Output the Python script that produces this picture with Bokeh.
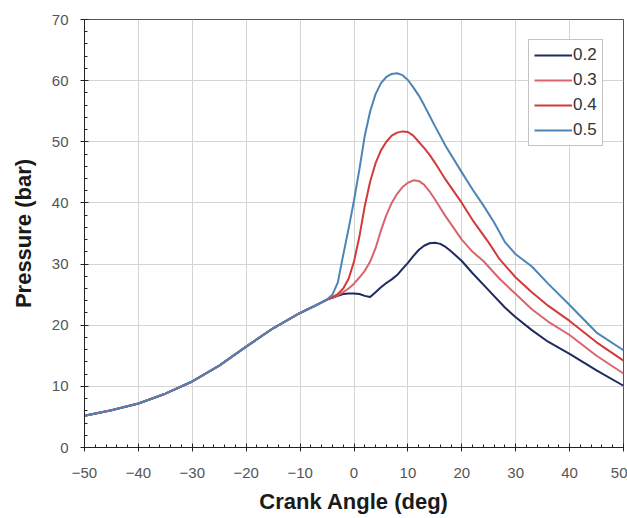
from bokeh.plotting import figure
from bokeh.models import SingleIntervalTicker, Range1d, Legend, LegendItem
from bokeh.embed import file_html
from bokeh.resources import INLINE

# ---- data ----
x_02 = [-50, -45, -40, -35, -30, -25, -20, -15, -10, -7, -5, -4, -3, -2, -1, 0, 1, 2, 3, 4, 5, 6, 7, 8, 9, 10,
        11, 12, 13, 14, 15, 16, 17, 18, 20, 22, 25, 28, 30, 33, 36, 40, 45, 50]
y_02 = [5.2, 6.1, 7.2, 8.8, 10.8, 13.4, 16.5, 19.5, 22.0, 23.3, 24.2, 24.5, 24.8, 25.1, 25.2, 25.2, 25.1, 24.8,
        24.6, 25.4, 26.2, 26.9, 27.5, 28.2, 29.2, 30.2, 31.3, 32.3, 33.0, 33.4, 33.5, 33.3, 32.8, 32.1, 30.5,
        28.5, 25.7, 22.9, 21.3, 19.2, 17.3, 15.3, 12.6, 10.1]

x_03 = [-50, -45, -40, -35, -30, -25, -20, -15, -10, -7, -5, -3, -2, -1, 0, 1, 2, 3, 4, 5, 6, 7, 8, 9, 10,
        11, 12, 13, 14, 15, 17, 20, 22, 24, 27, 30, 33, 36, 40, 45, 50]
y_03 = [5.2, 6.1, 7.2, 8.8, 10.8, 13.4, 16.5, 19.5, 22.0, 23.3, 24.2, 24.9, 25.4, 26.0, 26.8, 27.8, 28.9, 30.4,
        32.6, 35.5, 38.0, 40.0, 41.5, 42.6, 43.3, 43.7, 43.6, 43.0, 41.9, 40.6, 37.8, 34.0, 32.0, 30.5, 27.6,
        25.1, 22.6, 20.6, 18.4, 15.0, 12.1]

x_04 = [-50, -45, -40, -35, -30, -25, -20, -15, -10, -7, -5, -4, -3, -2, -1, 0, 1, 2, 3, 4, 5, 6, 7, 8, 9, 10,
        11, 12, 13, 14, 15, 17, 20, 22, 25, 27, 30, 33, 36, 40, 45, 50]
y_04 = [5.2, 6.1, 7.2, 8.8, 10.8, 13.4, 16.5, 19.5, 22.0, 23.3, 24.2, 24.6, 25.1, 26.0, 27.6, 30.4, 34.5, 39.5,
        43.5, 46.5, 48.6, 50.0, 51.0, 51.5, 51.7, 51.6, 51.0, 50.0, 49.0, 47.9, 46.6, 43.8, 40.0, 37.2, 33.5,
        30.8, 27.8, 25.4, 23.2, 20.7, 17.2, 14.2]

x_05 = [-50, -45, -40, -35, -30, -25, -20, -15, -10, -7, -5, -4, -3, -2, -1, 0, 1, 2, 3, 4, 5, 6, 7, 8, 9, 10,
        11, 12, 13, 14, 15, 17, 20, 22, 24, 26, 28, 30, 33, 36, 40, 45, 50]
y_05 = [5.2, 6.1, 7.2, 8.8, 10.8, 13.4, 16.5, 19.5, 22.0, 23.3, 24.2, 25.0, 27.0, 31.5, 35.8, 40.4, 45.5, 51.0,
        55.0, 57.8, 59.6, 60.6, 61.1, 61.2, 60.9, 60.1, 58.9, 57.6, 56.0, 54.3, 52.6, 49.3, 45.0, 42.2, 39.6,
        36.8, 33.6, 31.6, 29.6, 26.8, 23.3, 18.8, 15.9]

series_labels = ["0.2", "0.3", "0.4", "0.5"]
series_colors = ["#1f2a5e", "#d9646e", "#d33a3a", "#4d84b6"]

p = figure(width=627, height=518, output_backend="svg", toolbar_location=None,
           x_range=Range1d(-50, 50), y_range=Range1d(0, 70),
           min_border_left=84, min_border_right=4, min_border_top=19, min_border_bottom=71)

p.background_fill_color = "white"
p.outline_line_color = "#555555"
p.outline_line_width = 1

for ax, lbl in ((p.xaxis[0], "Crank Angle (deg)"), (p.yaxis[0], "Pressure (bar)")):
    ax.ticker = SingleIntervalTicker(interval=10, num_minor_ticks=5)
    ax.axis_label = lbl
    ax.axis_label_text_font = "Liberation Sans"
    ax.axis_label_text_font_style = "bold"
    ax.axis_label_text_font_size = "22px"
    ax.axis_label_text_color = "#1a1a1a"
    ax.major_label_text_font = "Liberation Sans"
    ax.major_label_text_font_size = "15px"
    ax.major_label_text_color = "#555555"
    ax.axis_line_color = "#222222"
    ax.major_tick_line_color = "#222222"
    ax.minor_tick_line_color = "#222222"
    ax.major_tick_in = 4
    ax.major_tick_out = 4
    ax.minor_tick_in = 3
    ax.minor_tick_out = 0

p.yaxis[0].major_label_standoff = 12
p.yaxis[0].axis_label_standoff = 13
p.xaxis[0].major_label_standoff = 16
p.xaxis[0].axis_label_standoff = 8

p.xgrid.grid_line_color = "#d4d4d4"
p.ygrid.grid_line_color = "#d4d4d4"
p.xgrid.ticker = SingleIntervalTicker(interval=10)
p.ygrid.ticker = SingleIntervalTicker(interval=10)

items = []
for xs, ys, lab, col in zip([x_02, x_03, x_04, x_05], [y_02, y_03, y_04, y_05], series_labels, series_colors):
    r = p.line(xs, ys, line_color=col, line_width=2)
    items.append(LegendItem(label=lab, renderers=[r]))

legend = Legend(items=items, location=(444, 301))
legend.label_text_font = "Liberation Sans"
legend.label_text_font_size = "17px"
legend.label_text_color = "#333333"
legend.glyph_width = 38
legend.glyph_height = 20
legend.label_height = 20
legend.label_standoff = 1
legend.spacing = 5
legend.padding = 5
legend.border_line_color = "#888888"
legend.background_fill_color = "white"
legend.background_fill_alpha = 1.0
p.add_layout(legend)

open("out.html", "w").write(file_html(p, INLINE))
